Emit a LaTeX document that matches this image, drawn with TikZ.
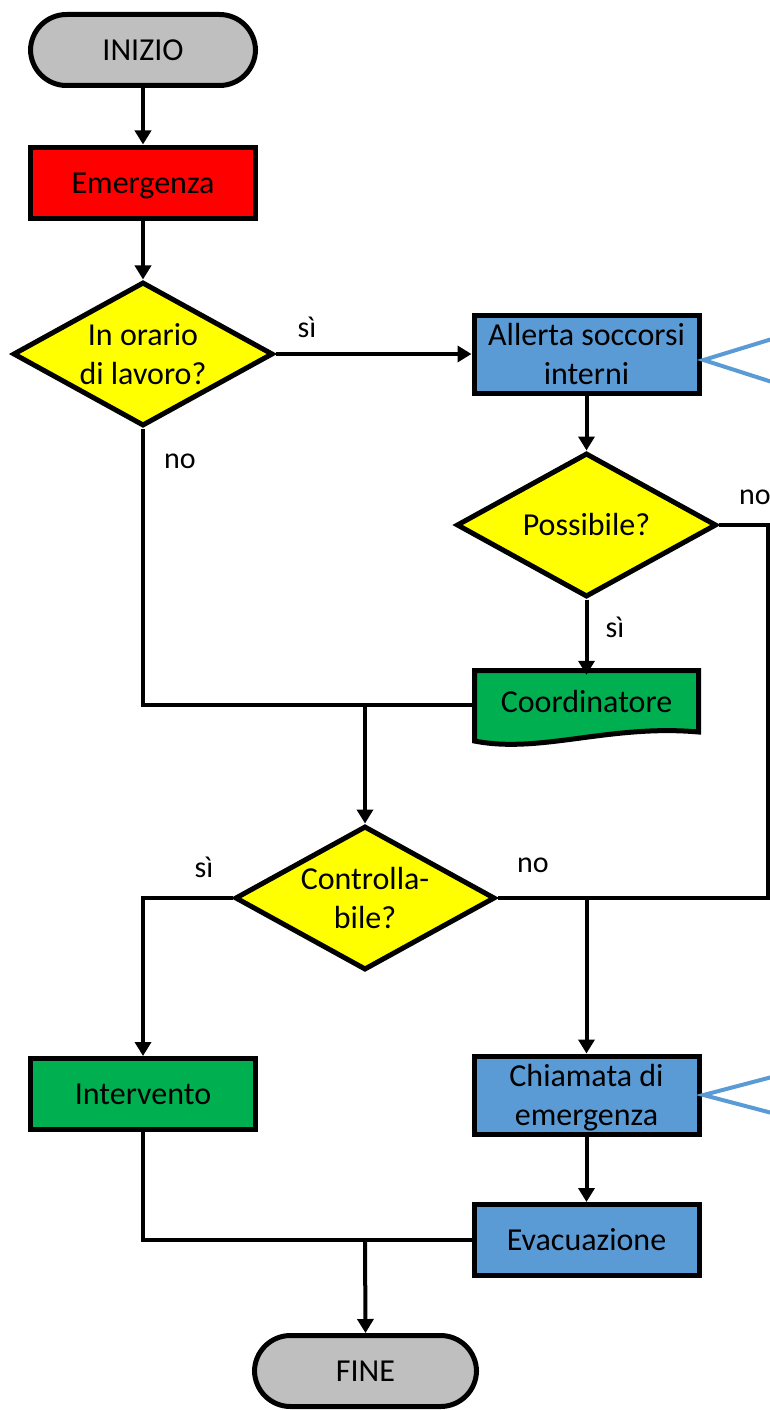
\documentclass[tikz,border=0pt]{standalone}
\usepackage{fontspec}
\setmainfont{Carlito}
\usetikzlibrary{shapes.geometric,arrows.meta}
\definecolor{grayfill}{HTML}{BFBFBF}
\definecolor{bluefill}{HTML}{5B9BD5}
\definecolor{greenfill}{HTML}{00B050}
\definecolor{yel}{HTML}{FFFF00}
\newcommand{\tx}[1]{\raisebox{-3pt}[\height][\depth]{\begin{tabular}{@{}c@{}}#1\end{tabular}}}
\begin{document}
\begin{tikzpicture}[x=1pt,y=-1pt,
 every node/.style={font=\fontsize{32}{39}\selectfont, align=center, inner sep=0pt},
 box/.style={draw, line width=5pt, minimum width=225pt, minimum height=71pt},
 pill/.style={box, rounded corners=36pt, fill=grayfill},
 dec/.style={draw, line width=5pt, diamond, aspect=1.8, fill=yel, minimum width=260pt, minimum height=144pt},
 conn/.style={line width=4pt},
 arr/.style={conn, -{Triangle[width=16pt,length=14pt]}},
 callout/.style={draw=bluefill, line width=4pt},
 lbl/.style={font=\fontsize{30}{36}\selectfont}
]
\useasboundingbox (0,0) rectangle (770,1410);

% nodes
\node[pill] (start) at (143,50) {\tx{INIZIO}};
\node[box, fill=red] (emerg) at (143,182.5) {\tx{Emergenza}};
\node[dec] (orario) at (143,354) {In orario\\di lavoro?};
\node[box, fill=bluefill] (allerta) at (586.5,354) {\tx{Allerta soccorsi\\interni}};
\node[dec] (poss) at (586.5,525) {Possibile?};
% document shape for Coordinatore
\filldraw[fill=greenfill, line width=5pt] (474.5,670.5) -- (698.5,670.5) -- (698.5,732)
  .. controls (610,724) and (540,754) .. (474.5,741) -- cycle;
\node[minimum width=224pt, minimum height=60pt] (coord) at (586.5,705) {\raisebox{4pt}[\height][\depth]{Coordinatore}};
\node[dec] (ctrl) at (365,898) {Controlla-\\bile?};
\node[box, fill=greenfill] (interv) at (143,1094) {\tx{Intervento}};
\node[box, fill=bluefill] (chiam) at (586.5,1095) {\tx{Chiamata di\\emergenza}};
\node[box, fill=bluefill] (evac) at (586.5,1240) {\tx{Evacuazione}};
\node[pill, minimum width=222pt] (fine) at (365.5,1371) {\tx{FINE}};

% junction coordinates
\coordinate (j1) at (365,705);
\coordinate (j2) at (586.5,898);
\coordinate (j3) at (365,1240);
\coordinate (r1) at (768,525);
\coordinate (r2) at (768,898);

% connectors
\draw[arr] (start) -- (emerg);
\draw[arr] (emerg) -- (orario);
\draw[arr] (orario.east) -- (allerta.west);
\draw[arr] (allerta) -- (poss);
\draw[arr] (poss) -- (poss.south |- coord.north);
\draw[conn] (orario.south) |- (coord.west);
\draw[arr] (j1) -- (ctrl.north);
\draw[conn] (poss.east) -- (r1) -- (r2) -- (ctrl.east);
\draw[arr] (j2) -- (chiam.north);
\draw[arr] (ctrl.west) -| (interv.north);
\draw[arr] (chiam) -- (evac);
\draw[conn] (interv.south) |- (evac.west);
\draw[arr] (j3) -- (fine.north);

% callouts
\draw[callout] (772,339) -- ([xshift=2pt,yshift=-6pt]allerta.east) -- (772,382);
\draw[callout] (772,1077) -- ([xshift=2pt]chiam.east) -- (772,1113);

% labels
\node[lbl] (l1) at (307,327) {sì};
\node[lbl] (l2) at (180,461) {no};
\node[lbl] (l3) at (755,497) {no};
\node[lbl] (l4) at (615,627) {sì};
\node[lbl] (l5) at (204,867) {sì};
\node[lbl] (l6) at (533,865) {no};
\end{tikzpicture}
\end{document}
